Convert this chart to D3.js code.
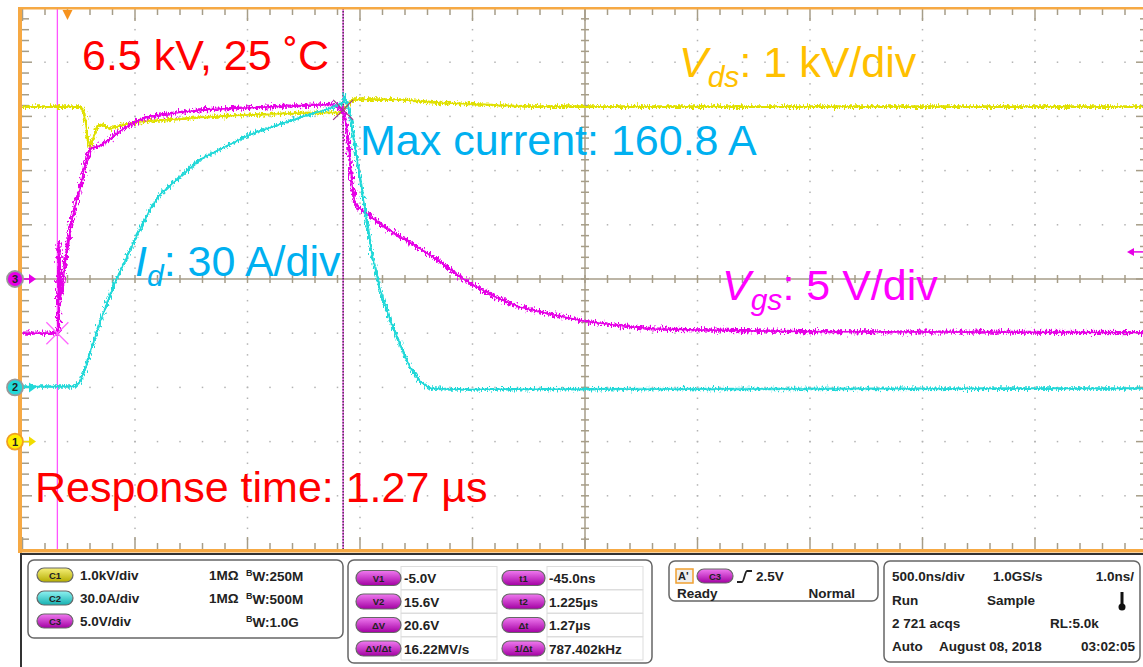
<!DOCTYPE html>
<html>
<head>
<meta charset="utf-8">
<script src="https://cdn.jsdelivr.net/npm/d3@7"></script>
<style>
  body { margin: 0; background: #fff; }
  svg { display: block; font-family: "Liberation Sans", Arial, sans-serif; }
</style>
</head>
<body>
<div id="chart"></div>
<script>
// time in microseconds, values in channel units
const vdsTime = [-0.2, 0.056, 0.073, 0.091, 0.1, 0.113, 0.131, 0.153, 0.189, 0.233, 0.3, 0.456, 0.589, 0.811, 1.033, 1.211, 1.233, 1.264, 1.478, 1.656, 1.833, 2.056, 4.8];
const vdsKV   = [6.18, 6.18, 6.09, 5.57, 5.44, 5.57, 5.81, 5.85, 5.77, 5.83, 5.89, 5.94, 5.98, 6.03, 6.06, 6.07, 6.16, 6.31, 6.31, 6.25, 6.22, 6.18, 6.18];

const idTime = [-0.2, 0.033, 0.056, 0.078, 0.1, 0.144, 0.211, 0.3, 0.367, 0.411, 0.589, 0.811, 1.033, 1.167, 1.225, 1.23, 1.242, 1.256, 1.287, 1.322, 1.353, 1.389, 1.433, 1.478, 1.522, 1.567, 1.611, 1.7, 4.8];
const idAmp  = [0.5, 0.5, 3.3, 10.0, 19.4, 36.0, 58.1, 81.9, 98.5, 106.8, 126.2, 140.0, 149.4, 154.4, 157.7, 160.8, 157.7, 151.1, 126.2, 98.5, 73.6, 54.2, 37.6, 23.8, 11.1, 3.3, -0.5, -1.1, -0.6];

const vgsTime = [-0.2, -0.04, -0.038, -0.033, -0.024, -0.002, 0.02, 0.042, 0.056, 0.078, 0.1, 0.144, 0.189, 0.233, 0.3, 0.367, 0.589, 0.811, 1.033, 1.18, 1.225, 1.238, 1.251, 1.264, 1.278, 1.3, 1.344, 1.402, 1.478, 1.567, 1.656, 1.744, 1.833, 1.922, 2.011, 2.158, 2.3, 2.456, 2.6, 2.811, 3.256, 4.8];
const vgsVolt = [-5.0, -5.0, 3.5, -1.85, -0.9, 2.8, 5.5, 7.4, 8.3, 10.6, 12.0, 12.3, 12.9, 13.65, 14.5, 15.0, 15.6, 15.8, 16.0, 16.1, 15.6, 14.3, 12.0, 8.8, 6.9, 6.5, 5.8, 4.9, 3.9, 2.8, 1.6, 0.2, -0.9, -1.85, -2.6, -3.3, -3.9, -4.3, -4.6, -4.7, -4.85, -4.95];

// channel setup: units/div and marker offset in divisions
const chNames  = ["C1", "C2", "C3"];
const chPerDiv = [1, 30, 5];
const chOffset = [-3, -2, 0];
const chColor  = ["#e0e000", "#22d8d8", "#e600e6"];

const cursorT = [-0.045, 1.225];
const cursorV = [-5.0, 15.6];
const triggerLevel = 2.5;

const chLabels = ["1.0kV/div", "30.0A/div", "5.0V/div"];
const chImp    = ["1MΩ", "1MΩ", ""];
const chBw     = ["W:250M", "W:500M", "W:1.0G"];

const measNames  = ["V1", "V2", "ΔV", "ΔV/Δt"];
const measValues = ["-5.0V", "15.6V", "20.6V", "16.22MV/s"];
const timeNames  = ["t1", "t2", "Δt", "1/Δt"];
const timeValues = ["-45.0ns", "1.225µs", "1.27µs", "787.402kHz"];

const W = 1143, H = 667;
const svg = d3.select("#chart").append("svg").attr("width", W).attr("height", H);

const x = d3.scaleLinear().domain([-0.2, 4.8]).range([22.5, 1147.5]);
const yDiv = d3.scaleLinear().domain([-5, 5]).range([550, 8]);
const yCh = i => v => yDiv(chOffset[i] + v / chPerDiv[i]);

const defs = svg.append("defs");
const clip = defs.append("clipPath").attr("id", "plot");
clip.append("rect").attr("x", 22).attr("y", 8).attr("width", 1130).attr("height", 542);

// jitter filter so the traces look like sampled, noisy scope data
function noise(id, scale, seed) {
  const f = defs.append("filter").attr("id", id)
    .attr("filterUnits", "userSpaceOnUse")
    .attr("x", 0).attr("y", 0).attr("width", W).attr("height", 560);
  f.append("feTurbulence").attr("type", "fractalNoise")
    .attr("baseFrequency", "0.7 0.25").attr("numOctaves", 2).attr("seed", seed).attr("result", "t");
  f.append("feDisplacementMap").attr("in", "SourceGraphic").attr("in2", "t")
    .attr("scale", scale).attr("xChannelSelector", "R").attr("yChannelSelector", "G");
}
noise("nz1", 8, 3);
noise("nz2", 8, 7);
noise("nz3", 10, 11);

// ---- graticule
const grid = svg.append("g");
const gridColor = "#a69d88";
const xMajor = d3.range(-0.2, 4.81, 0.5);
const xMinor = d3.range(-0.2, 4.81, 0.1);
const yMajor = d3.range(-5, 5.01, 1);
const yMinor = d3.range(-5, 5.01, 0.2);

// dotted lines
yMajor.filter(d => Math.abs(d) > 0.01 && Math.abs(d) < 4.99).forEach(d => {
  grid.selectAll(null).data(xMinor).enter().append("rect")
    .attr("x", t => x(t) - 0.75).attr("y", yDiv(d) - 0.75)
    .attr("width", 1.5).attr("height", 1.5).attr("fill", "#b3b3b3");
});
xMajor.filter((t, i) => i > 0 && i !== 5).forEach(t => {
  grid.selectAll(null).data(yMinor).enter().append("rect")
    .attr("x", x(t) - 0.75).attr("y", d => yDiv(d) - 0.75)
    .attr("width", 1.5).attr("height", 1.5).attr("fill", "#b3b3b3");
});

// center cross
grid.append("line").attr("x1", 22).attr("x2", W).attr("y1", yDiv(0)).attr("y2", yDiv(0))
  .attr("stroke", gridColor).attr("stroke-width", 1.5);
grid.append("line").attr("x1", x(2.3)).attr("x2", x(2.3)).attr("y1", 8).attr("y2", 550)
  .attr("stroke", gridColor).attr("stroke-width", 1.5);
grid.selectAll(null).data(xMinor).enter().append("line")
  .attr("x1", t => x(t)).attr("x2", t => x(t))
  .attr("y1", yDiv(0) - 4).attr("y2", yDiv(0) + 4)
  .attr("stroke", gridColor).attr("stroke-width", 1.5);
grid.selectAll(null).data(yMinor).enter().append("line")
  .attr("x1", x(2.3) - 4).attr("x2", x(2.3) + 4)
  .attr("y1", d => yDiv(d)).attr("y2", d => yDiv(d))
  .attr("stroke", gridColor).attr("stroke-width", 1.5);

// border ticks
grid.selectAll(null).data(xMinor).enter().append("line")
  .attr("x1", t => x(t)).attr("x2", t => x(t))
  .attr("y1", 9).attr("y2", (t, i) => i % 5 === 0 ? 21 : 15)
  .attr("stroke", gridColor).attr("stroke-width", 1.5);
grid.selectAll(null).data(xMinor).enter().append("line")
  .attr("x1", t => x(t)).attr("x2", t => x(t))
  .attr("y1", 549).attr("y2", (t, i) => i % 5 === 0 ? 537 : 543)
  .attr("stroke", gridColor).attr("stroke-width", 1.5);
grid.selectAll(null).data(yMinor).enter().append("line")
  .attr("x1", 22).attr("x2", (d, i) => i % 5 === 0 ? 32 : 29)
  .attr("y1", d => yDiv(d)).attr("y2", d => yDiv(d))
  .attr("stroke", gridColor).attr("stroke-width", 1.5);
grid.selectAll(null).data(yMinor).enter().append("line")
  .attr("x1", 1147).attr("x2", (d, i) => i % 5 === 0 ? 1136 : 1140)
  .attr("y1", d => yDiv(d)).attr("y2", d => yDiv(d))
  .attr("stroke", gridColor).attr("stroke-width", 1.5);

// ---- cursors (behind traces)
const cur = svg.append("g");
cur.append("line").attr("x1", x(cursorT[0])).attr("x2", x(cursorT[0]))
  .attr("y1", 8).attr("y2", 550).attr("stroke", "#ff55ff").attr("stroke-width", 1.3);
cur.append("line").attr("x1", x(cursorT[1])).attr("x2", x(cursorT[1]))
  .attr("y1", 8).attr("y2", 550).attr("stroke", "#ee44ee").attr("stroke-width", 1.3);
cur.append("line").attr("x1", x(cursorT[1])).attr("x2", x(cursorT[1]))
  .attr("y1", 8).attr("y2", 550).attr("stroke", "#333").attr("stroke-width", 1.3)
  .attr("stroke-dasharray", "1.5,1.5");

// ---- traces
const traces = svg.append("g").attr("clip-path", "url(#plot)");
const series = [
  { t: vdsTime, v: vdsKV, ch: 0, f: "nz1", w: 2.6 },
  { t: vgsTime, v: vgsVolt, ch: 2, f: "nz3", w: 3.2 },
  { t: idTime, v: idAmp, ch: 1, f: "nz2", w: 2.6 }
];
series.forEach(s => {
  const y = yCh(s.ch);
  const line = d3.line().x((d, i) => x(s.t[i])).y(d => y(d));
  traces.append("path").datum(s.v).attr("d", line)
    .attr("fill", "none").attr("stroke", chColor[s.ch]).attr("stroke-width", s.w)
    .attr("filter", `url(#${s.f})`);
  traces.append("path").datum(s.v).attr("d", line)
    .attr("fill", "none").attr("stroke", chColor[s.ch]).attr("stroke-width", 1.4);
});

// cursor crosses
function cross(cx, cy, r, color) {
  svg.append("path")
    .attr("d", `M${cx - r},${cy - r}L${cx + r},${cy + r}M${cx - r},${cy + r}L${cx + r},${cy - r}`)
    .attr("stroke", color).attr("stroke-width", 1.3).attr("fill", "none");
}
cross(x(cursorT[0]), yCh(2)(cursorV[0]), 11, "#ff66ff");
cross(x(cursorT[1]), yCh(2)(cursorV[1]), 10, "#a03a8a");

// ---- frame
const orange = "#f6a944";
svg.append("rect").attr("x", 18).attr("y", 7).attr("width", 4).attr("height", 546).attr("fill", orange);
svg.append("rect").attr("x", 18).attr("y", 7).attr("width", W).attr("height", 2.5).attr("fill", orange);
svg.append("rect").attr("x", 18).attr("y", 549).attr("width", W).attr("height", 3.5).attr("fill", orange);

// trigger position
svg.append("path").attr("d", `M${x(0) - 5},10L${x(0) + 5},10L${x(0)},20Z`).attr("fill", "#f7931e");

// channel markers
chNames.forEach((c, i) => {
  const cy = yDiv(chOffset[i]);
  const col = i === 0 ? "#f0dc00" : chColor[i];
  const g = svg.append("g");
  g.append("line").attr("x1", 20).attr("x2", 31).attr("y1", cy).attr("y2", cy)
    .attr("stroke", col).attr("stroke-width", 1.5);
  g.append("path").attr("d", `M29,${cy - 5}L36,${cy}L29,${cy + 5}Z`).attr("fill", col);
  g.append("circle").attr("cx", 15).attr("cy", cy).attr("r", 8)
    .attr("fill", i === 0 ? "#ffee00" : chColor[i])
    .attr("stroke", i === 0 ? "#f0a020" : "#9a9a9a").attr("stroke-width", 1.8);
  g.append("text").attr("x", 15).attr("y", cy + 4).attr("text-anchor", "middle")
    .attr("font-size", 11).attr("font-weight", "bold").attr("fill", "#222").text(i + 1);
});

// trigger level arrow (C3)
const ty = yCh(2)(triggerLevel);
svg.append("line").attr("x1", 1130).attr("x2", W).attr("y1", ty).attr("y2", ty)
  .attr("stroke", "#e600e6").attr("stroke-width", 1.5);
svg.append("path").attr("d", `M1134,${ty - 4}L1127,${ty}L1134,${ty + 4}Z`).attr("fill", "#e600e6");

// ---- annotations
const ann = svg.append("g").attr("font-size", 43);
ann.append("text").attr("x", 82).attr("y", 70).attr("fill", "#ff0000").text("6.5 kV, 25 ˚C");
ann.append("text").attr("x", 360).attr("y", 155).attr("fill", "#00b0f0").text("Max current: 160.8 A");
ann.append("text").attr("x", 35).attr("y", 502).attr("fill", "#ff0000").text("Response time: 1.27 µs");

function subLabel(px, py, main, sub, rest, color) {
  const t = ann.append("text").attr("x", px).attr("y", py).attr("fill", color);
  t.append("tspan").attr("font-style", "italic").text(main);
  t.append("tspan").attr("font-style", "italic").attr("font-size", 30).attr("dy", 10).text(sub);
  t.append("tspan").attr("dy", -10).text(rest);
}
subLabel(679, 77, "V", "ds", ": 1 kV/div", "#ffc000");
subLabel(135, 276, "I", "d", ": 30 A/div", "#00b0f0");
subLabel(722, 300, "V", "gs", ": 5 V/div", "#ff00ff");

// ---- bottom panel
const panel = svg.append("g").attr("font-weight", "bold").attr("font-size", 13.5).attr("fill", "#222");
panel.append("rect").attr("x", 21).attr("y", 554).attr("width", 1130).attr("height", 120)
  .attr("fill", "#fff").attr("stroke", "#333").attr("stroke-width", 2);

const pillGrad = (id, c1, c2) => {
  const g = defs.append("linearGradient").attr("id", id).attr("x1", 0).attr("y1", 0).attr("x2", 0).attr("y2", 1);
  g.append("stop").attr("offset", "0%").attr("stop-color", c1);
  g.append("stop").attr("offset", "100%").attr("stop-color", c2);
};
pillGrad("gY", "#f6f07a", "#b5ad00");
pillGrad("gC", "#8ff2f2", "#16b0b0");
pillGrad("gM", "#f07af0", "#a300a3");
const pillFill = ["url(#gY)", "url(#gC)", "url(#gM)"];

function pill(px, cy, w, h, fill, label) {
  panel.append("rect").attr("x", px).attr("y", cy - h / 2).attr("width", w).attr("height", h)
    .attr("rx", h / 2).attr("fill", fill).attr("stroke", "#666").attr("stroke-width", 1.2);
  panel.append("text").attr("x", px + w / 2).attr("y", cy + 3.5).attr("text-anchor", "middle")
    .attr("font-size", 9.5).attr("fill", "#222").text(label);
}
function box(bx, by, bw, bh) {
  panel.append("rect").attr("x", bx).attr("y", by).attr("width", bw).attr("height", bh)
    .attr("rx", 6).attr("fill", "#fff").attr("stroke", "#666").attr("stroke-width", 1.5);
}

// channel box
box(28, 560, 315, 78);
const chRowY = [575, 598, 621];
chNames.forEach((c, i) => {
  pill(37, chRowY[i], 36, 14, pillFill[i], c);
  panel.append("text").attr("x", 80).attr("y", chRowY[i] + 5).text(chLabels[i]);
  panel.append("text").attr("x", 209).attr("y", chRowY[i] + 5).text(chImp[i]);
  const b = panel.append("text").attr("x", 246).attr("y", chRowY[i] + 5);
  b.append("tspan").attr("font-size", 9).attr("dy", -4).text("B");
  b.append("tspan").attr("dy", 5).text(chBw[i]);
});

// measurement box
box(348, 560, 304, 103);
const mRowY = [578, 601.5, 625, 648.5];
measNames.forEach((m, i) => {
  panel.append("rect").attr("x", 401).attr("y", mRowY[i] - 11.5).attr("width", 96).attr("height", 23)
    .attr("fill", "#fff").attr("stroke", "#ddd");
  panel.append("rect").attr("x", 547).attr("y", mRowY[i] - 11.5).attr("width", 96).attr("height", 23)
    .attr("fill", "#fff").attr("stroke", "#ddd");
  pill(356, mRowY[i], 45, 15, "url(#gM)", m);
  pill(502, mRowY[i], 43, 15, "url(#gM)", timeNames[i]);
  panel.append("text").attr("x", 404).attr("y", mRowY[i] + 5).text(measValues[i]);
  panel.append("text").attr("x", 549).attr("y", mRowY[i] + 5).text(timeValues[i]);
});

// trigger box
box(669, 561, 209, 40);
panel.append("rect").attr("x", 676).attr("y", 569).attr("width", 17).attr("height", 14)
  .attr("fill", "#eee").attr("stroke", "#f0a030").attr("stroke-width", 1.5);
panel.append("text").attr("x", 678).attr("y", 580).attr("font-size", 11).text("A'");
pill(697, 576, 36, 14, "url(#gM)", "C3");
panel.append("path").attr("d", "M737,582L742,582C744,582 745,571 747,571L752,571")
  .attr("fill", "none").attr("stroke", "#222").attr("stroke-width", 1.8);
panel.append("text").attr("x", 756).attr("y", 581).text(triggerLevel.toFixed(1) + "V");
panel.append("text").attr("x", 677).attr("y", 598).text("Ready");
panel.append("text").attr("x", 855).attr("y", 598).attr("text-anchor", "end").text("Normal");

// acquisition box
box(884, 561, 256, 101);
const acq = [
  [["500.0ns/div", 892, "start"], ["1.0GS/s", 993, "start"], ["1.0ns/", 1134, "end"]],
  [["Run", 892, "start"], ["Sample", 987, "start"]],
  [["2 721 acqs", 892, "start"], ["RL:5.0k", 1050, "start"]],
  [["Auto", 892, "start"], ["August 08, 2018", 939, "start"], ["03:02:05", 1135, "end"]]
];
const acqY = [581, 605, 628, 651];
acq.forEach((row, i) => row.forEach(([s, px, a]) => {
  panel.append("text").attr("x", px).attr("y", acqY[i]).attr("text-anchor", a).text(s);
}));
// thermometer icon
panel.append("rect").attr("x", 1120.5).attr("y", 592).attr("width", 3).attr("height", 13).attr("fill", "#111");
panel.append("circle").attr("cx", 1122).attr("cy", 607).attr("r", 3.5).attr("fill", "#111");
</script>
</body>
</html>
